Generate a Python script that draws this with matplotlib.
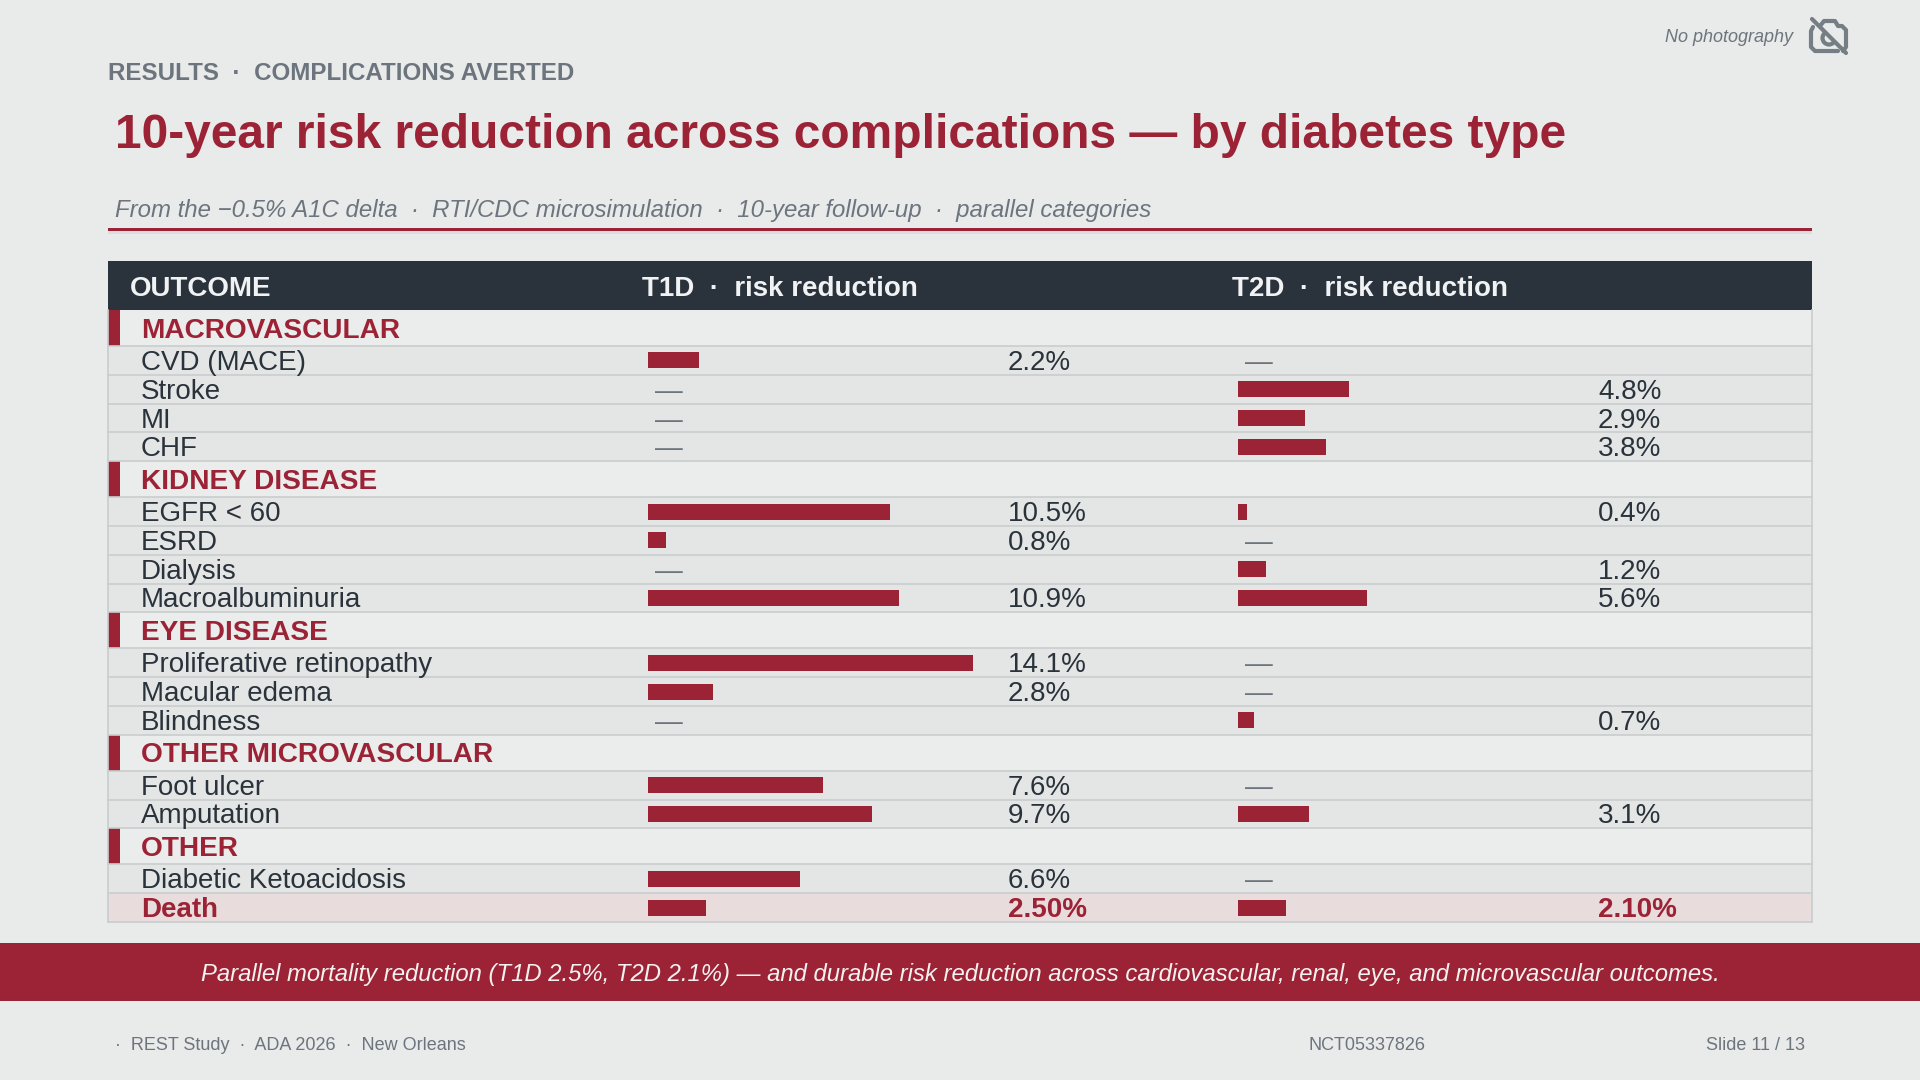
import matplotlib
matplotlib.use('Agg')
import matplotlib.pyplot as plt
from matplotlib.patches import Rectangle, Arc

plt.rcParams['font.family'] = ['Liberation Sans', 'DejaVu Sans']

# table content, None = not reported (drawn as a dash)
sections = ['MACROVASCULAR', 'KIDNEY DISEASE', 'EYE DISEASE', 'OTHER MICROVASCULAR', 'OTHER']
section_sizes = [4, 4, 3, 2, 2]
outcomes = ['CVD (MACE)', 'Stroke', 'MI', 'CHF',
            'EGFR < 60', 'ESRD', 'Dialysis', 'Macroalbuminuria',
            'Proliferative retinopathy', 'Macular edema', 'Blindness',
            'Foot ulcer', 'Amputation',
            'Diabetic Ketoacidosis', 'Death']
t1d = [2.2, None, None, None,
       10.5, 0.8, None, 10.9,
       14.1, 2.8, None,
       7.6, 9.7,
       6.6, 2.5]
t2d = [None, 4.8, 2.9, 3.8,
       0.4, None, 1.2, 5.6,
       None, None, 0.7,
       None, 3.1,
       None, 2.1]

BG = '#e9eaea'
RED = '#9b2335'
DARK = '#2a333b'
GRAY = '#6c757d'

fig = plt.figure(figsize=(19.2, 10.8), dpi=100, facecolor=BG)
# canvas in pixels, y down
ax = fig.add_axes([0, 0, 1, 1])
ax.set_xlim(0, 1920)
ax.set_ylim(1080, 0)
ax.axis('off')

# bars get their own percent axes lined up with the canvas rows
px_per_pct = 23.05
ax_t1 = fig.add_axes([648 / 1920, 0, 16 * px_per_pct / 1920, 1])
ax_t2 = fig.add_axes([1238 / 1920, 0, 16 * px_per_pct / 1920, 1])
for a in (ax_t1, ax_t2):
    a.set_xlim(0, 16)
    a.set_ylim(1080, 0)
    a.axis('off')
    a.patch.set_alpha(0)

# header texts
ax.text(108, 74, 'RESULTS  ·  COMPLICATIONS AVERTED', fontsize=17.4, fontweight='bold',
        color=GRAY, va='center')
ax.text(115, 135, '10-year risk reduction across complications — by diabetes type',
        fontsize=34.5, fontweight='bold', color=RED, va='center')
ax.text(115, 211, 'From the −0.5% A1C delta  ·  RTI/CDC microsimulation  ·  10-year follow-up  ·  parallel categories',
        fontsize=17.25, style='italic', color=GRAY, va='center')
ax.add_patch(Rectangle((108, 231), 1704, 2.5, color='#dcdddd', lw=0))
ax.add_patch(Rectangle((108, 228), 1704, 3, color=RED, lw=0))

# no photography mark
ax.text(1793, 38, 'No photography', fontsize=13, style='italic', color=GRAY, va='center', ha='right')
icon = '#757e85'
ax.plot([1820, 1824, 1835, 1838, 1842, 1846, 1846, 1843], [26, 21, 21, 26, 26, 30, 47, 51],
        color=icon, lw=3, solid_joinstyle='round', solid_capstyle='round')
ax.plot([1813, 1811, 1811, 1815, 1838], [27, 31, 47, 51, 51],
        color=icon, lw=3, solid_joinstyle='round', solid_capstyle='round')
ax.add_patch(Arc((1829, 38), 13, 13, theta1=45, theta2=225, ec=icon, lw=3))
ax.plot([1812, 1846], [19, 53], color=icon, lw=3, solid_capstyle='round')

# table header
ax.add_patch(Rectangle((108, 261), 1704, 49, color=DARK, lw=0))
ax.text(130, 288.5, 'OUTCOME', fontsize=20, fontweight='bold', color='#f0f2f3', va='center')
ax.text(642, 288.5, 'T1D  ·  risk reduction', fontsize=20, fontweight='bold', color='#f0f2f3', va='center')
ax.text(1232, 288.5, 'T2D  ·  risk reduction', fontsize=20, fontweight='bold', color='#f0f2f3', va='center')

# table rows
LINE = '#c9cdce'
SEC_H = 36
ROW_H = 28.8
TXT_DY = 2.5
y = 310
i = 0
for sec, size in zip(sections, section_sizes):
    ax.add_patch(Rectangle((108, y), 1704, SEC_H, color='#ebecec', lw=0))
    ax.add_patch(Rectangle((108, y), 12, SEC_H, color=RED, lw=0))
    ax.text(141, y + SEC_H / 2 + 2.5, sec, fontsize=20.2, fontweight='bold', color=RED, va='center')
    y += SEC_H
    ax.plot([108, 1812], [y, y], color=LINE, lw=1.2)
    for k in range(size):
        death = outcomes[i] == 'Death'
        ax.add_patch(Rectangle((108, y), 1704, ROW_H, color='#e8dcdd' if death else '#e4e6e6', lw=0))
        mid = y + ROW_H / 2
        ax.text(141, mid + TXT_DY, outcomes[i], fontsize=20, color=RED if death else DARK,
                fontweight='bold' if death else 'normal', va='center')
        for vals, bar_ax, dash_x, val_x in ((t1d, ax_t1, 655, 1008), (t2d, ax_t2, 1245, 1598)):
            v = vals[i]
            if v is None:
                ax.text(dash_x, mid + TXT_DY, '—', fontsize=20, color=GRAY, va='center')
                continue
            bar_ax.barh(mid, v, height=16, color=RED, lw=0)
            label = f'{v:.2f}%' if death else f'{v}%'
            ax.text(val_x, mid + TXT_DY, label, fontsize=20, color=RED if death else DARK,
                    fontweight='bold' if death else 'normal', va='center')
        y += ROW_H
        ax.plot([108, 1812], [y, y], color=LINE, lw=1.2)
        i += 1
# side borders
ax.plot([108, 108], [310, 922], color=LINE, lw=1.2, zorder=1.5)
ax.plot([1812, 1812], [310, 922], color=LINE, lw=1.2)

# banner
ax.add_patch(Rectangle((0, 943), 1920, 58, color=RED, lw=0))
ax.text(960, 975, 'Parallel mortality reduction (T1D 2.5%, T2D 2.1%) — and durable risk reduction across '
        'cardiovascular, renal, eye, and microvascular outcomes.',
        fontsize=17.16, style='italic', color='#f4f1f1', ha='center', va='center')

# footer
ax.text(115, 1046, '·  REST Study  ·  ADA 2026  ·  New Orleans', fontsize=13, color=GRAY, va='center')
ax.text(1309, 1046, 'NCT05337826', fontsize=13, color=GRAY, va='center')
ax.text(1805, 1046, 'Slide 11 / 13', fontsize=13, color=GRAY, va='center', ha='right')

fig.savefig('out.png', dpi=100, facecolor=BG)
